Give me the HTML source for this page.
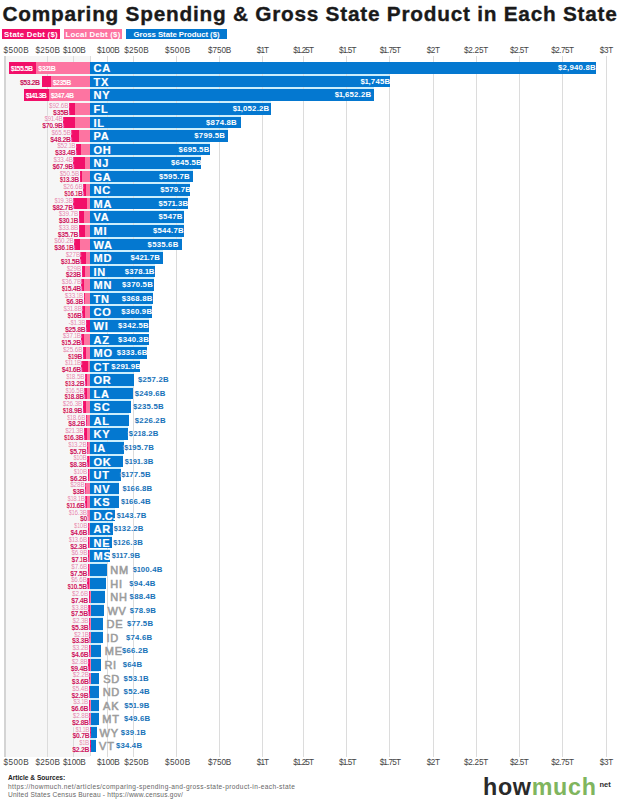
<!DOCTYPE html>
<html><head><meta charset="utf-8"><style>
html,body{margin:0;padding:0;}
body{width:619px;height:800px;overflow:hidden;position:relative;background:#fff;font-family:"Liberation Sans",sans-serif;}
div{position:absolute;white-space:nowrap;}
.title{left:2.5px;top:2px;font-size:20.8px;font-weight:bold;color:#1a1a1a;letter-spacing:0.755px;-webkit-text-stroke:0.35px #1a1a1a}
.leg{top:29px;height:10px;line-height:11px;font-size:7.8px;font-weight:bold;color:#fff;text-align:center;letter-spacing:0.25px}
.panel{background:#f6f6f6;}
.gl{width:1px;background:#dcdcdc;}
.tk{width:80px;text-align:center;font-size:8.2px;color:#444;line-height:8px;}
.bb{background:#0478d0;}
.gap{background:#cdeefc;}
.n1{margin:0 -0.55px;}
.lp{background:#fd74a1;}
.dp{background:#f20f69;}
.pin{font-size:7px;font-weight:bold;color:#fff;letter-spacing:-0.52px;padding-top:0.8px}
.pout2{font-size:7px;font-weight:bold;color:#c9175e;letter-spacing:-0.5px;padding-top:0.8px}
.lo{font-size:6.3px;color:#e387ad;letter-spacing:-0.1px;line-height:6px;text-shadow:0 0 1px #fff,1px 0 1px #fff,-1px 0 1px #fff;}
.so{font-size:6.9px;font-weight:bold;color:#cc1660;line-height:6px;letter-spacing:-0.3px;text-shadow:0 0 1px #fff,1px 0 1px #fff,-1px 0 1px #fff;}
.ab{font-size:11px;font-weight:bold;color:#fff;letter-spacing:0.7px;-webkit-text-stroke:0.2px #fff}
.ag{color:#9c9c9c;font-weight:normal;-webkit-text-stroke:0.55px #9c9c9c;text-shadow:0 0 1px #fff,1px 0 1px #fff,-1px 0 1px #fff;}
.vin{font-size:7.8px;font-weight:bold;color:#fff;letter-spacing:0.2px}
.vout,.vout2{font-size:7.8px;font-weight:bold;color:#1672b8;letter-spacing:0.2px;text-shadow:0 0 1px #fff,1px 0 1px #fff,-1px 0 1px #fff}
.vout2{margin-left:4px;letter-spacing:0;vertical-align:1px;}
.foot{left:8px;font-size:6.6px;color:#666;line-height:7px;}
</style></head><body>
<div class="title">Comparing Spending &amp; Gross State Product in Each State</div>
<div class="leg" style="left:2px;width:58px;background:#f20f69">State Debt ($)</div>
<div class="leg" style="left:64px;width:58px;background:#fd74a1">Local Debt ($)</div>
<div class="leg" style="left:126px;width:101px;background:#0478d0;letter-spacing:-0.05px">Gross State Product ($)</div>
<div class="gap" style="left:90.20px;top:73.90px;width:300.11px;height:1.96px"></div>
<div class="gap" style="left:90.20px;top:87.46px;width:284.14px;height:1.96px"></div>
<div class="gap" style="left:90.20px;top:101.02px;width:180.88px;height:1.96px"></div>
<div class="gap" style="left:90.20px;top:114.58px;width:150.35px;height:1.96px"></div>
<div class="gap" style="left:90.20px;top:128.14px;width:137.39px;height:1.96px"></div>
<div class="gap" style="left:90.20px;top:141.70px;width:119.50px;height:1.96px"></div>
<div class="gap" style="left:90.20px;top:155.26px;width:110.89px;height:1.96px"></div>
<div class="gap" style="left:90.20px;top:168.82px;width:102.32px;height:1.96px"></div>
<div class="gap" style="left:90.20px;top:182.38px;width:99.57px;height:1.96px"></div>
<div class="gap" style="left:90.20px;top:195.94px;width:98.12px;height:1.96px"></div>
<div class="gap" style="left:90.20px;top:209.50px;width:93.94px;height:1.96px"></div>
<div class="gap" style="left:90.20px;top:223.06px;width:93.54px;height:1.96px"></div>
<div class="gap" style="left:90.20px;top:236.62px;width:91.98px;height:1.96px"></div>
<div class="gap" style="left:90.20px;top:250.18px;width:72.37px;height:1.96px"></div>
<div class="gap" style="left:90.20px;top:263.74px;width:64.87px;height:1.96px"></div>
<div class="gap" style="left:90.20px;top:277.30px;width:63.56px;height:1.96px"></div>
<div class="gap" style="left:90.20px;top:290.86px;width:63.27px;height:1.96px"></div>
<div class="gap" style="left:90.20px;top:304.42px;width:61.91px;height:1.96px"></div>
<div class="gap" style="left:90.20px;top:317.98px;width:58.74px;height:1.96px"></div>
<div class="gap" style="left:90.20px;top:331.54px;width:58.37px;height:1.96px"></div>
<div class="gap" style="left:90.20px;top:345.10px;width:57.21px;height:1.96px"></div>
<div class="gap" style="left:90.20px;top:358.66px;width:50.04px;height:1.96px"></div>
<div class="gap" style="left:90.20px;top:372.22px;width:44.06px;height:1.96px"></div>
<div class="gap" style="left:90.20px;top:385.78px;width:42.76px;height:1.96px"></div>
<div class="gap" style="left:90.20px;top:399.34px;width:40.33px;height:1.96px"></div>
<div class="gap" style="left:90.20px;top:412.90px;width:38.73px;height:1.96px"></div>
<div class="gap" style="left:90.20px;top:426.46px;width:37.35px;height:1.96px"></div>
<div class="gap" style="left:90.20px;top:440.02px;width:33.48px;height:1.96px"></div>
<div class="gap" style="left:90.20px;top:453.58px;width:32.72px;height:1.96px"></div>
<div class="gap" style="left:90.20px;top:467.14px;width:30.35px;height:1.96px"></div>
<div class="gap" style="left:90.20px;top:480.70px;width:28.51px;height:1.96px"></div>
<div class="gap" style="left:90.20px;top:494.26px;width:28.44px;height:1.96px"></div>
<div class="gap" style="left:90.20px;top:507.82px;width:24.53px;height:1.96px"></div>
<div class="gap" style="left:90.20px;top:521.38px;width:22.55px;height:1.96px"></div>
<div class="gap" style="left:90.20px;top:534.94px;width:21.54px;height:1.96px"></div>
<div class="gap" style="left:90.20px;top:548.50px;width:20.09px;height:1.96px"></div>
<div class="gap" style="left:90.20px;top:562.06px;width:17.08px;height:1.96px"></div>
<div class="gap" style="left:90.20px;top:575.62px;width:16.05px;height:1.96px"></div>
<div class="gap" style="left:90.20px;top:589.18px;width:15.01px;height:1.96px"></div>
<div class="gap" style="left:90.20px;top:602.74px;width:13.38px;height:1.96px"></div>
<div class="gap" style="left:90.20px;top:616.30px;width:13.14px;height:1.96px"></div>
<div class="gap" style="left:90.20px;top:629.86px;width:12.64px;height:1.96px"></div>
<div class="gap" style="left:90.20px;top:643.42px;width:11.19px;height:1.96px"></div>
<div class="gap" style="left:90.20px;top:656.98px;width:10.81px;height:1.96px"></div>
<div class="gap" style="left:90.20px;top:670.54px;width:8.94px;height:1.96px"></div>
<div class="gap" style="left:90.20px;top:684.10px;width:8.82px;height:1.96px"></div>
<div class="gap" style="left:90.20px;top:697.66px;width:8.73px;height:1.96px"></div>
<div class="gap" style="left:90.20px;top:711.22px;width:8.34px;height:1.96px"></div>
<div class="gap" style="left:90.20px;top:724.78px;width:6.53px;height:1.96px"></div>
<div class="gap" style="left:90.20px;top:738.34px;width:5.72px;height:1.96px"></div>
<div class="panel" style="left:5.00px;top:56.00px;width:85.20px;height:700.50px"></div>
<div class="gl" style="left:4.4px;width:1.3px;top:56.00px;height:700.50px;background:#d4d4d4"></div>
<div class="gl" style="left:47.00px;top:56.00px;height:700.50px"></div>
<div class="gl" style="left:73.00px;top:56.00px;height:6.30px"></div>
<div class="gl" style="left:73.00px;top:727px;height:29.50px"></div>
<div class="gl" style="left:106.90px;top:56.00px;height:700.50px"></div>
<div class="gl" style="left:132.80px;top:56.00px;height:700.50px"></div>
<div class="gl" style="left:176.00px;top:56.00px;height:700.50px"></div>
<div class="gl" style="left:218.60px;top:56.00px;height:700.50px"></div>
<div class="gl" style="left:262.00px;top:56.00px;height:700.50px"></div>
<div class="gl" style="left:302.70px;top:56.00px;height:700.50px"></div>
<div class="gl" style="left:345.90px;top:56.00px;height:700.50px"></div>
<div class="gl" style="left:388.90px;top:56.00px;height:700.50px"></div>
<div class="gl" style="left:432.50px;top:56.00px;height:700.50px"></div>
<div class="gl" style="left:476.30px;top:56.00px;height:700.50px"></div>
<div class="gl" style="left:518.80px;top:56.00px;height:700.50px"></div>
<div class="gl" style="left:561.90px;top:56.00px;height:700.50px"></div>
<div class="gl" style="left:605.70px;top:56.00px;height:700.50px"></div>
<div class="gl" style="left:89.90px;top:56.00px;height:6.30px"></div>
<div class="gl" style="left:89.90px;top:751.90px;height:4.60px"></div>
<div class="tk" style="left:3.5px;top:47.00px;width:auto;text-align:left;letter-spacing:0.4px">$500B</div>
<div class="tk" style="left:7.85px;top:47.00px;letter-spacing:0.2px">$250B</div>
<div class="tk" style="left:34.30px;top:47.00px;letter-spacing:-0.2px">$100B</div>
<div class="tk" style="left:68.30px;top:47.00px;letter-spacing:-0.2px">$100B</div>
<div class="tk" style="left:96.60px;top:47.00px;letter-spacing:0.2px">$250B</div>
<div class="tk" style="left:137.80px;top:47.00px;letter-spacing:0.4px">$500B</div>
<div class="tk" style="left:179.65px;top:47.00px;letter-spacing:-0.1px">$750B</div>
<div class="tk" style="left:222.40px;top:47.00px;letter-spacing:-1.0px">$1T</div>
<div class="tk" style="left:263.12px;top:47.00px;letter-spacing:-0.96px">$1.25T</div>
<div class="tk" style="left:307.36px;top:47.00px;letter-spacing:-0.875px">$1.5T</div>
<div class="tk" style="left:349.88px;top:47.00px;letter-spacing:-0.84px">$1.75T</div>
<div class="tk" style="left:393.17px;top:47.00px;letter-spacing:-0.45px">$2T</div>
<div class="tk" style="left:435.97px;top:47.00px;letter-spacing:-0.26px">$2.25T</div>
<div class="tk" style="left:479.12px;top:47.00px;letter-spacing:-0.55px">$2.5T</div>
<div class="tk" style="left:522.43px;top:47.00px;letter-spacing:-0.54px">$2.75T</div>
<div class="tk" style="left:566.38px;top:47.00px;letter-spacing:-0.25px">$3T</div>
<div class="tk" style="left:3.5px;top:759.00px;width:auto;text-align:left;letter-spacing:0.4px">$500B</div>
<div class="tk" style="left:7.85px;top:759.00px;letter-spacing:0.2px">$250B</div>
<div class="tk" style="left:34.30px;top:759.00px;letter-spacing:-0.2px">$100B</div>
<div class="tk" style="left:68.30px;top:759.00px;letter-spacing:-0.2px">$100B</div>
<div class="tk" style="left:96.60px;top:759.00px;letter-spacing:0.2px">$250B</div>
<div class="tk" style="left:137.80px;top:759.00px;letter-spacing:0.4px">$500B</div>
<div class="tk" style="left:179.65px;top:759.00px;letter-spacing:-0.1px">$750B</div>
<div class="tk" style="left:222.40px;top:759.00px;letter-spacing:-1.0px">$1T</div>
<div class="tk" style="left:263.12px;top:759.00px;letter-spacing:-0.96px">$1.25T</div>
<div class="tk" style="left:307.36px;top:759.00px;letter-spacing:-0.875px">$1.5T</div>
<div class="tk" style="left:349.88px;top:759.00px;letter-spacing:-0.84px">$1.75T</div>
<div class="tk" style="left:393.17px;top:759.00px;letter-spacing:-0.45px">$2T</div>
<div class="tk" style="left:435.97px;top:759.00px;letter-spacing:-0.26px">$2.25T</div>
<div class="tk" style="left:479.12px;top:759.00px;letter-spacing:-0.55px">$2.5T</div>
<div class="tk" style="left:522.43px;top:759.00px;letter-spacing:-0.54px">$2.75T</div>
<div class="tk" style="left:566.38px;top:759.00px;letter-spacing:-0.25px">$3T</div>
<div class="bb" style="left:90.20px;top:62.30px;width:505.91px;height:11.60px"></div>
<div class="lp" style="left:36.27px;top:62.30px;width:53.93px;height:11.60px"></div>
<div class="dp" style="left:9.37px;top:62.30px;width:26.90px;height:11.60px"></div>
<div class="pin" style="left:38.27px;top:62.30px;height:11.60px;line-height:11.60px">$32<span class="n1">1</span>B</div>
<div class="pin" style="left:10.87px;top:62.30px;height:11.60px;line-height:11.60px">$<span class="n1">1</span>55.5B</div>
<div class="ab" style="left:93.60px;top:62.30px;height:11.60px;line-height:12.60px">CA</div>
<div class="vin" style="right:23.19px;top:62.30px;height:11.60px;line-height:12.10px">$2,940.8B</div>
<div class="bb" style="left:90.20px;top:75.86px;width:300.11px;height:11.60px"></div>
<div class="lp" style="left:50.72px;top:75.86px;width:39.48px;height:11.60px"></div>
<div class="dp" style="left:41.52px;top:75.86px;width:9.20px;height:11.60px"></div>
<div class="pin" style="left:52.72px;top:75.86px;height:11.60px;line-height:11.60px">$235B</div>
<div class="pout2" style="right:579.48px;top:75.86px;height:11.60px;line-height:11.60px">$53.2B</div>
<div class="ab" style="left:93.60px;top:75.86px;height:11.60px;line-height:12.60px">TX</div>
<div class="vin" style="right:228.69px;top:75.86px;height:11.60px;line-height:12.10px">$<span class="n1">1</span>,745B</div>
<div class="bb" style="left:90.20px;top:89.42px;width:284.14px;height:11.60px"></div>
<div class="lp" style="left:48.64px;top:89.42px;width:41.56px;height:11.60px"></div>
<div class="dp" style="left:24.19px;top:89.42px;width:24.44px;height:11.60px"></div>
<div class="pin" style="left:50.64px;top:89.42px;height:11.60px;line-height:11.60px">$247.4B</div>
<div class="pin" style="left:25.69px;top:89.42px;height:11.60px;line-height:11.60px">$<span class="n1">1</span>4<span class="n1">1</span>.3B</div>
<div class="ab" style="left:93.60px;top:89.42px;height:11.60px;line-height:12.60px">NY</div>
<div class="vin" style="right:247.66px;top:89.42px;height:11.60px;line-height:12.10px">$<span class="n1">1</span>,652.2B</div>
<div class="bb" style="left:90.20px;top:102.98px;width:180.88px;height:11.60px"></div>
<div class="lp" style="left:74.64px;top:102.98px;width:15.56px;height:11.60px"></div>
<div class="dp" style="left:68.87px;top:102.98px;width:5.78px;height:11.60px"></div>
<div class="lo" style="right:550.63px;top:102.78px">$92.6B</div>
<div class="so" style="right:550.63px;top:109.58px">$35B</div>
<div class="ab" style="left:93.60px;top:102.98px;height:11.60px;line-height:12.60px">FL</div>
<div class="vin" style="right:349.62px;top:102.98px;height:11.60px;line-height:12.10px">$<span class="n1">1</span>,052.2B</div>
<div class="bb" style="left:90.20px;top:116.54px;width:150.35px;height:11.60px"></div>
<div class="lp" style="left:74.84px;top:116.54px;width:15.36px;height:11.60px"></div>
<div class="dp" style="left:63.15px;top:116.54px;width:11.70px;height:11.60px"></div>
<div class="lo" style="right:556.35px;top:116.34px">$9<span class="n1">1</span>.4B</div>
<div class="so" style="right:556.35px;top:123.14px">$70.9B</div>
<div class="ab" style="left:93.60px;top:116.54px;height:11.60px;line-height:12.60px">IL</div>
<div class="vin" style="right:382.05px;top:116.54px;height:11.60px;line-height:12.10px">$874.8B</div>
<div class="bb" style="left:90.20px;top:130.10px;width:137.39px;height:11.60px"></div>
<div class="lp" style="left:79.20px;top:130.10px;width:11.00px;height:11.60px"></div>
<div class="dp" style="left:71.24px;top:130.10px;width:7.95px;height:11.60px"></div>
<div class="lo" style="right:548.26px;top:129.90px">$65.5B</div>
<div class="so" style="right:548.26px;top:136.70px">$48.2B</div>
<div class="ab" style="left:93.60px;top:130.10px;height:11.60px;line-height:12.60px">PA</div>
<div class="vin" style="right:393.81px;top:130.10px;height:11.60px;line-height:12.10px">$799.5B</div>
<div class="bb" style="left:90.20px;top:143.66px;width:119.50px;height:11.60px"></div>
<div class="lp" style="left:81.45px;top:143.66px;width:8.75px;height:11.60px"></div>
<div class="dp" style="left:75.94px;top:143.66px;width:5.51px;height:11.60px"></div>
<div class="lo" style="right:543.56px;top:143.46px">$52.<span class="n1">1</span>B</div>
<div class="so" style="right:543.56px;top:150.26px">$33.4B</div>
<div class="ab" style="left:93.60px;top:143.66px;height:11.60px;line-height:12.60px">OH</div>
<div class="vin" style="right:409.50px;top:143.66px;height:11.60px;line-height:12.10px">$695.5B</div>
<div class="bb" style="left:90.20px;top:157.22px;width:110.89px;height:11.60px"></div>
<div class="lp" style="left:84.59px;top:157.22px;width:5.61px;height:11.60px"></div>
<div class="dp" style="left:73.39px;top:157.22px;width:11.20px;height:11.60px"></div>
<div class="lo" style="right:546.11px;top:157.02px">$33.4B</div>
<div class="so" style="right:546.11px;top:163.82px">$67.9B</div>
<div class="ab" style="left:93.60px;top:157.22px;height:11.60px;line-height:12.60px">NJ</div>
<div class="vin" style="right:417.11px;top:157.22px;height:11.60px;line-height:12.10px">$645.5B</div>
<div class="bb" style="left:90.20px;top:170.78px;width:102.32px;height:11.60px"></div>
<div class="lp" style="left:81.72px;top:170.78px;width:8.48px;height:11.60px"></div>
<div class="dp" style="left:79.52px;top:170.78px;width:2.19px;height:11.60px"></div>
<div class="lo" style="right:539.98px;top:170.58px">$50.5B</div>
<div class="so" style="right:539.98px;top:177.38px">$<span class="n1">1</span>3.3B</div>
<div class="ab" style="left:93.60px;top:170.78px;height:11.60px;line-height:12.60px">GA</div>
<div class="vin" style="right:429.08px;top:170.78px;height:11.60px;line-height:12.10px">$595.7B</div>
<div class="bb" style="left:90.20px;top:184.34px;width:99.57px;height:11.60px"></div>
<div class="lp" style="left:85.73px;top:184.34px;width:4.47px;height:11.60px"></div>
<div class="dp" style="left:83.07px;top:184.34px;width:2.66px;height:11.60px"></div>
<div class="lo" style="right:536.43px;top:184.14px">$26.6B</div>
<div class="so" style="right:536.43px;top:190.94px">$<span class="n1">1</span>6.<span class="n1">1</span>B</div>
<div class="ab" style="left:93.60px;top:184.34px;height:11.60px;line-height:12.60px">NC</div>
<div class="vin" style="right:427.93px;top:184.34px;height:11.60px;line-height:12.10px">$579.7B</div>
<div class="bb" style="left:90.20px;top:197.90px;width:98.12px;height:11.60px"></div>
<div class="lp" style="left:86.96px;top:197.90px;width:3.24px;height:11.60px"></div>
<div class="dp" style="left:73.31px;top:197.90px;width:13.65px;height:11.60px"></div>
<div class="lo" style="right:546.19px;top:197.70px">$<span class="n1">1</span>9.3B</div>
<div class="so" style="right:546.19px;top:204.50px">$82.7B</div>
<div class="ab" style="left:93.60px;top:197.90px;height:11.60px;line-height:12.60px">MA</div>
<div class="vin" style="right:430.68px;top:197.90px;height:11.60px;line-height:12.10px">$57<span class="n1">1</span>.3B</div>
<div class="bb" style="left:90.20px;top:211.46px;width:93.94px;height:11.60px"></div>
<div class="lp" style="left:83.53px;top:211.46px;width:6.67px;height:11.60px"></div>
<div class="dp" style="left:78.56px;top:211.46px;width:4.97px;height:11.60px"></div>
<div class="lo" style="right:540.94px;top:211.26px">$39.7B</div>
<div class="so" style="right:540.94px;top:218.06px">$30.<span class="n1">1</span>B</div>
<div class="ab" style="left:93.60px;top:211.46px;height:11.60px;line-height:12.60px">VA</div>
<div class="vin" style="right:436.46px;top:211.46px;height:11.60px;line-height:12.10px">$547B</div>
<div class="bb" style="left:90.20px;top:225.02px;width:93.54px;height:11.60px"></div>
<div class="lp" style="left:84.52px;top:225.02px;width:5.68px;height:11.60px"></div>
<div class="dp" style="left:78.63px;top:225.02px;width:5.89px;height:11.60px"></div>
<div class="lo" style="right:540.87px;top:224.82px">$33.8B</div>
<div class="so" style="right:540.87px;top:231.62px">$35.7B</div>
<div class="ab" style="left:93.60px;top:225.02px;height:11.60px;line-height:12.60px">MI</div>
<div class="vin" style="right:435.16px;top:225.02px;height:11.60px;line-height:12.10px">$544.7B</div>
<div class="bb" style="left:90.20px;top:238.58px;width:91.98px;height:11.60px"></div>
<div class="lp" style="left:80.09px;top:238.58px;width:10.11px;height:11.60px"></div>
<div class="dp" style="left:74.13px;top:238.58px;width:5.96px;height:11.60px"></div>
<div class="lo" style="right:545.37px;top:238.38px">$60.2B</div>
<div class="so" style="right:545.37px;top:245.18px">$36.<span class="n1">1</span>B</div>
<div class="ab" style="left:93.60px;top:238.58px;height:11.60px;line-height:12.60px">WA</div>
<div class="vin" style="right:440.52px;top:238.58px;height:11.60px;line-height:12.10px">$535.6B</div>
<div class="bb" style="left:90.20px;top:252.14px;width:72.37px;height:11.60px"></div>
<div class="lp" style="left:85.66px;top:252.14px;width:4.54px;height:11.60px"></div>
<div class="dp" style="left:80.47px;top:252.14px;width:5.20px;height:11.60px"></div>
<div class="lo" style="right:539.03px;top:251.94px">$27B</div>
<div class="so" style="right:539.03px;top:258.74px">$3<span class="n1">1</span>.5B</div>
<div class="ab" style="left:93.60px;top:252.14px;height:11.60px;line-height:12.60px">MD</div>
<div class="vin" style="right:458.83px;top:252.14px;height:11.60px;line-height:12.10px">$42<span class="n1">1</span>.7B</div>
<div class="bb" style="left:90.20px;top:265.70px;width:64.87px;height:11.60px"></div>
<div class="lp" style="left:85.33px;top:265.70px;width:4.87px;height:11.60px"></div>
<div class="dp" style="left:81.53px;top:265.70px;width:3.80px;height:11.60px"></div>
<div class="lo" style="right:537.97px;top:265.50px">$29B</div>
<div class="so" style="right:537.97px;top:272.30px">$23B</div>
<div class="ab" style="left:93.60px;top:265.70px;height:11.60px;line-height:12.60px">IN</div>
<div class="vin" style="right:464.53px;top:265.70px;height:11.60px;line-height:12.10px">$378.<span class="n1">1</span>B</div>
<div class="bb" style="left:90.20px;top:279.26px;width:63.56px;height:11.60px"></div>
<div class="lp" style="left:84.03px;top:279.26px;width:6.17px;height:11.60px"></div>
<div class="dp" style="left:81.49px;top:279.26px;width:2.54px;height:11.60px"></div>
<div class="lo" style="right:538.01px;top:279.06px">$36.7B</div>
<div class="so" style="right:538.01px;top:285.86px">$<span class="n1">1</span>5.4B</div>
<div class="ab" style="left:93.60px;top:279.26px;height:11.60px;line-height:12.60px">MN</div>
<div class="vin" style="right:466.04px;top:279.26px;height:11.60px;line-height:12.10px">$370.5B</div>
<div class="bb" style="left:90.20px;top:292.82px;width:63.27px;height:11.60px"></div>
<div class="lp" style="left:84.64px;top:292.82px;width:5.56px;height:11.60px"></div>
<div class="dp" style="left:83.60px;top:292.82px;width:1.04px;height:11.60px"></div>
<div class="lo" style="right:535.90px;top:292.62px">$33.<span class="n1">1</span>B</div>
<div class="so" style="right:535.90px;top:299.42px">$6.3B</div>
<div class="ab" style="left:93.60px;top:292.82px;height:11.60px;line-height:12.60px">TN</div>
<div class="vin" style="right:466.43px;top:292.82px;height:11.60px;line-height:12.10px">$368.8B</div>
<div class="bb" style="left:90.20px;top:306.38px;width:61.91px;height:11.60px"></div>
<div class="lp" style="left:84.86px;top:306.38px;width:5.34px;height:11.60px"></div>
<div class="dp" style="left:82.22px;top:306.38px;width:2.64px;height:11.60px"></div>
<div class="lo" style="right:537.28px;top:306.18px">$3<span class="n1">1</span>.8B</div>
<div class="so" style="right:537.28px;top:312.98px">$<span class="n1">1</span>6B</div>
<div class="ab" style="left:93.60px;top:306.38px;height:11.60px;line-height:12.60px">CO</div>
<div class="vin" style="right:466.79px;top:306.38px;height:11.60px;line-height:12.10px">$360.9B</div>
<div class="bb" style="left:90.20px;top:319.94px;width:58.74px;height:11.60px"></div>
<div class="dp" style="left:85.94px;top:319.94px;width:4.26px;height:11.60px"></div>
<div class="lo" style="right:533.56px;top:319.74px">-$<span class="n1">1</span>.3B</div>
<div class="so" style="right:533.56px;top:326.54px">$25.8B</div>
<div class="ab" style="left:93.60px;top:319.94px;height:11.60px;line-height:12.60px">WI</div>
<div class="vin" style="right:470.06px;top:319.94px;height:11.60px;line-height:12.10px">$342.5B</div>
<div class="bb" style="left:90.20px;top:333.50px;width:58.37px;height:11.60px"></div>
<div class="lp" style="left:83.97px;top:333.50px;width:6.23px;height:11.60px"></div>
<div class="dp" style="left:81.46px;top:333.50px;width:2.51px;height:11.60px"></div>
<div class="lo" style="right:538.04px;top:333.30px">$37.<span class="n1">1</span>B</div>
<div class="so" style="right:538.04px;top:340.10px">$<span class="n1">1</span>5.2B</div>
<div class="ab" style="left:93.60px;top:333.50px;height:11.60px;line-height:12.60px">AZ</div>
<div class="vin" style="right:470.03px;top:333.50px;height:11.60px;line-height:12.10px">$340.3B</div>
<div class="bb" style="left:90.20px;top:347.06px;width:57.21px;height:11.60px"></div>
<div class="lp" style="left:85.90px;top:347.06px;width:4.30px;height:11.60px"></div>
<div class="dp" style="left:82.76px;top:347.06px;width:3.14px;height:11.60px"></div>
<div class="lo" style="right:536.74px;top:346.86px">$25.6B</div>
<div class="so" style="right:536.74px;top:353.66px">$<span class="n1">1</span>9B</div>
<div class="ab" style="left:93.60px;top:347.06px;height:11.60px;line-height:12.60px">MO</div>
<div class="vin" style="right:471.49px;top:347.06px;height:11.60px;line-height:12.10px">$333.6B</div>
<div class="bb" style="left:90.20px;top:360.62px;width:50.04px;height:11.60px"></div>
<div class="lp" style="left:88.34px;top:360.62px;width:1.86px;height:11.60px"></div>
<div class="dp" style="left:81.47px;top:360.62px;width:6.86px;height:11.60px"></div>
<div class="lo" style="right:538.03px;top:360.42px">$<span class="n1">1</span><span class="n1">1</span>.<span class="n1">1</span>B</div>
<div class="so" style="right:538.03px;top:367.22px">$4<span class="n1">1</span>.6B</div>
<div class="ab" style="left:93.60px;top:360.62px;height:11.60px;line-height:12.60px">CT</div>
<div class="vin" style="right:477.86px;top:360.62px;height:11.60px;line-height:12.10px">$29<span class="n1">1</span>.9B</div>
<div class="bb" style="left:90.20px;top:374.18px;width:44.06px;height:11.60px"></div>
<div class="lp" style="left:87.09px;top:374.18px;width:3.11px;height:11.60px"></div>
<div class="dp" style="left:84.91px;top:374.18px;width:2.18px;height:11.60px"></div>
<div class="lo" style="right:534.59px;top:373.98px">$<span class="n1">1</span>8.5B</div>
<div class="so" style="right:534.59px;top:380.78px">$<span class="n1">1</span>3.2B</div>
<div class="ab" style="left:93.60px;top:374.18px;height:11.60px;line-height:12.60px">OR</div>
<div class="vout" style="left:137.96px;top:374.18px;height:11.60px;line-height:12.10px">$257.2B</div>
<div class="bb" style="left:90.20px;top:387.74px;width:42.76px;height:11.60px"></div>
<div class="lp" style="left:87.43px;top:387.74px;width:2.77px;height:11.60px"></div>
<div class="dp" style="left:84.33px;top:387.74px;width:3.10px;height:11.60px"></div>
<div class="lo" style="right:535.17px;top:387.54px">$<span class="n1">1</span>6.5B</div>
<div class="so" style="right:535.17px;top:394.34px">$<span class="n1">1</span>8.8B</div>
<div class="ab" style="left:93.60px;top:387.74px;height:11.60px;line-height:12.60px">LA</div>
<div class="vout" style="left:134.76px;top:387.74px;height:11.60px;line-height:12.10px">$249.6B</div>
<div class="bb" style="left:90.20px;top:401.30px;width:40.33px;height:11.60px"></div>
<div class="lp" style="left:85.78px;top:401.30px;width:4.42px;height:11.60px"></div>
<div class="dp" style="left:82.66px;top:401.30px;width:3.12px;height:11.60px"></div>
<div class="lo" style="right:536.84px;top:401.10px">$26.3B</div>
<div class="so" style="right:536.84px;top:407.90px">$<span class="n1">1</span>8.9B</div>
<div class="ab" style="left:93.60px;top:401.30px;height:11.60px;line-height:12.60px">SC</div>
<div class="vout" style="left:132.93px;top:401.30px;height:11.60px;line-height:12.10px">$235.5B</div>
<div class="bb" style="left:90.20px;top:414.86px;width:38.73px;height:11.60px"></div>
<div class="lp" style="left:87.08px;top:414.86px;width:3.12px;height:11.60px"></div>
<div class="dp" style="left:85.72px;top:414.86px;width:1.35px;height:11.60px"></div>
<div class="lo" style="right:533.78px;top:414.66px">$<span class="n1">1</span>8.6B</div>
<div class="so" style="right:533.78px;top:421.46px">$8.2B</div>
<div class="ab" style="left:93.60px;top:414.86px;height:11.60px;line-height:12.60px">AL</div>
<div class="vout" style="left:134.83px;top:414.86px;height:11.60px;line-height:12.10px">$226.2B</div>
<div class="bb" style="left:90.20px;top:428.42px;width:37.35px;height:11.60px"></div>
<div class="lp" style="left:86.62px;top:428.42px;width:3.58px;height:11.60px"></div>
<div class="dp" style="left:83.93px;top:428.42px;width:2.69px;height:11.60px"></div>
<div class="lo" style="right:535.57px;top:428.22px">$2<span class="n1">1</span>.3B</div>
<div class="so" style="right:535.57px;top:435.02px">$<span class="n1">1</span>6.3B</div>
<div class="ab" style="left:93.60px;top:428.42px;height:11.60px;line-height:12.60px">KY</div>
<div class="vout" style="left:128.85px;top:428.42px;height:11.60px;line-height:12.10px">$2<span class="n1">1</span>8.2B</div>
<div class="bb" style="left:90.20px;top:441.98px;width:33.48px;height:11.60px"></div>
<div class="lp" style="left:87.98px;top:441.98px;width:2.22px;height:11.60px"></div>
<div class="dp" style="left:87.04px;top:441.98px;width:0.94px;height:11.60px"></div>
<div class="lo" style="right:532.46px;top:441.78px">$<span class="n1">1</span>3.2B</div>
<div class="so" style="right:532.46px;top:448.58px">$5.7B</div>
<div class="ab" style="left:93.60px;top:441.98px;height:11.60px;line-height:12.60px">IA</div>
<div class="vout" style="left:124.28px;top:441.98px;height:11.60px;line-height:12.10px">$<span class="n1">1</span>95.7B</div>
<div class="bb" style="left:90.20px;top:455.54px;width:32.72px;height:11.60px"></div>
<div class="lp" style="left:88.52px;top:455.54px;width:1.68px;height:11.60px"></div>
<div class="dp" style="left:87.15px;top:455.54px;width:1.37px;height:11.60px"></div>
<div class="lo" style="right:532.35px;top:455.34px">$<span class="n1">1</span>0B</div>
<div class="so" style="right:532.35px;top:462.14px">$8.3B</div>
<div class="ab" style="left:93.60px;top:455.54px;height:11.60px;line-height:12.60px">OK</div>
<div class="vout" style="left:124.82px;top:455.54px;height:11.60px;line-height:12.10px">$<span class="n1">1</span>9<span class="n1">1</span>.3B</div>
<div class="bb" style="left:90.20px;top:469.10px;width:30.35px;height:11.60px"></div>
<div class="lp" style="left:88.52px;top:469.10px;width:1.68px;height:11.60px"></div>
<div class="dp" style="left:87.50px;top:469.10px;width:1.02px;height:11.60px"></div>
<div class="lo" style="right:532.00px;top:468.90px">$<span class="n1">1</span>0B</div>
<div class="so" style="right:532.00px;top:475.70px">$6.2B</div>
<div class="ab" style="left:93.60px;top:469.10px;height:11.60px;line-height:12.60px">UT</div>
<div class="vout" style="left:121.15px;top:469.10px;height:11.60px;line-height:12.10px">$<span class="n1">1</span>77.5B</div>
<div class="bb" style="left:90.20px;top:482.66px;width:28.51px;height:11.60px"></div>
<div class="lp" style="left:85.50px;top:482.66px;width:4.70px;height:11.60px"></div>
<div class="dp" style="left:85.00px;top:482.66px;width:0.49px;height:11.60px"></div>
<div class="lo" style="right:534.50px;top:482.46px">$28B</div>
<div class="so" style="right:534.50px;top:489.26px">$3B</div>
<div class="ab" style="left:93.60px;top:482.66px;height:11.60px;line-height:12.60px">NV</div>
<div class="vout" style="left:122.61px;top:482.66px;height:11.60px;line-height:12.10px">$<span class="n1">1</span>66.8B</div>
<div class="bb" style="left:90.20px;top:496.22px;width:28.44px;height:11.60px"></div>
<div class="lp" style="left:87.16px;top:496.22px;width:3.04px;height:11.60px"></div>
<div class="dp" style="left:85.25px;top:496.22px;width:1.91px;height:11.60px"></div>
<div class="lo" style="right:534.25px;top:496.02px">$<span class="n1">1</span>8.<span class="n1">1</span>B</div>
<div class="so" style="right:534.25px;top:502.82px">$<span class="n1">1</span><span class="n1">1</span>.6B</div>
<div class="ab" style="left:93.60px;top:496.22px;height:11.60px;line-height:12.60px">KS</div>
<div class="vout" style="left:121.04px;top:496.22px;height:11.60px;line-height:12.10px">$<span class="n1">1</span>66.4B</div>
<div class="bb" style="left:90.20px;top:509.78px;width:24.53px;height:11.60px"></div>
<div class="lp" style="left:87.46px;top:509.78px;width:2.74px;height:11.60px"></div>
<div class="lo" style="right:532.04px;top:509.58px">$<span class="n1">1</span>6.3B</div>
<div class="so" style="right:532.04px;top:516.38px">$0</div>
<div class="ab" style="left:93.60px;letter-spacing:0.1px;top:509.78px;height:11.60px;line-height:12.60px">D.C.</div>
<div class="vout" style="left:116.83px;top:509.78px;height:11.60px;line-height:12.10px">$<span class="n1">1</span>43.7B</div>
<div class="bb" style="left:90.20px;top:523.34px;width:22.55px;height:11.60px"></div>
<div class="lp" style="left:88.52px;top:523.34px;width:1.68px;height:11.60px"></div>
<div class="dp" style="left:87.76px;top:523.34px;width:0.76px;height:11.60px"></div>
<div class="lo" style="right:531.74px;top:523.14px">$<span class="n1">1</span>0B</div>
<div class="so" style="right:531.74px;top:529.94px">$4.6B</div>
<div class="ab" style="left:93.60px;top:523.34px;height:11.60px;line-height:12.60px">AR</div>
<div class="vout" style="left:113.85px;top:523.34px;height:11.60px;line-height:12.10px">$<span class="n1">1</span>32.2B</div>
<div class="bb" style="left:90.20px;top:536.90px;width:21.54px;height:11.60px"></div>
<div class="lp" style="left:87.92px;top:536.90px;width:2.28px;height:11.60px"></div>
<div class="dp" style="left:87.54px;top:536.90px;width:0.38px;height:11.60px"></div>
<div class="lo" style="right:531.96px;top:536.70px">$<span class="n1">1</span>3.6B</div>
<div class="so" style="right:531.96px;top:543.50px">$2.3B</div>
<div class="ab" style="left:93.60px;top:536.90px;height:11.60px;line-height:12.60px">NE</div>
<div class="vout" style="left:113.24px;top:536.90px;height:11.60px;line-height:12.10px">$<span class="n1">1</span>26.3B</div>
<div class="bb" style="left:90.20px;top:550.46px;width:20.09px;height:11.60px"></div>
<div class="lp" style="left:89.04px;top:550.46px;width:1.16px;height:11.60px"></div>
<div class="dp" style="left:87.87px;top:550.46px;width:1.17px;height:11.60px"></div>
<div class="lo" style="right:531.63px;top:550.26px">$6.9B</div>
<div class="so" style="right:531.63px;top:557.06px">$7.<span class="n1">1</span>B</div>
<div class="ab" style="left:93.60px;top:550.46px;height:11.60px;line-height:12.60px">MS</div>
<div class="vout" style="left:111.69px;top:550.46px;height:11.60px;line-height:12.10px">$<span class="n1">1</span><span class="n1">1</span>7.9B</div>
<div class="bb" style="left:90.20px;top:564.02px;width:17.08px;height:11.60px"></div>
<div class="lp" style="left:88.92px;top:564.02px;width:1.28px;height:11.60px"></div>
<div class="dp" style="left:87.69px;top:564.02px;width:1.24px;height:11.60px"></div>
<div class="lo" style="right:531.81px;top:563.82px">$7.6B</div>
<div class="so" style="right:531.81px;top:570.62px">$7.5B</div>
<div class="ab ag" style="left:110.30px;top:564.02px;height:11.60px;line-height:12.60px">NM</div>
<div class="vout" style="left:132.80px;top:564.02px;height:11.60px;line-height:12.10px">$<span class="n1">1</span>00.4B</div>
<div class="bb" style="left:90.20px;top:577.58px;width:16.05px;height:11.60px"></div>
<div class="lp" style="left:89.09px;top:577.58px;width:1.11px;height:11.60px"></div>
<div class="dp" style="left:87.36px;top:577.58px;width:1.73px;height:11.60px"></div>
<div class="lo" style="right:532.14px;top:577.38px">$6.6B</div>
<div class="so" style="right:532.14px;top:584.18px">$<span class="n1">1</span>0.5B</div>
<div class="ab ag" style="left:110.30px;top:577.58px;height:11.60px;line-height:12.60px">HI</div>
<div class="vout" style="left:129.30px;top:577.58px;height:11.60px;line-height:12.10px">$94.4B</div>
<div class="bb" style="left:90.20px;top:591.14px;width:15.01px;height:11.60px"></div>
<div class="lp" style="left:89.76px;top:591.14px;width:0.44px;height:11.60px"></div>
<div class="dp" style="left:88.54px;top:591.14px;width:1.22px;height:11.60px"></div>
<div class="lo" style="right:530.96px;top:590.94px">$2.6B</div>
<div class="so" style="right:530.96px;top:597.74px">$7.4B</div>
<div class="ab ag" style="left:110.30px;top:591.14px;height:11.60px;line-height:12.60px">NH</div>
<div class="vout" style="left:129.60px;top:591.14px;height:11.60px;line-height:12.10px">$88.4B</div>
<div class="bb" style="left:90.20px;top:604.70px;width:13.38px;height:11.60px"></div>
<div class="lp" style="left:89.56px;top:604.70px;width:0.64px;height:11.60px"></div>
<div class="dp" style="left:88.32px;top:604.70px;width:1.24px;height:11.60px"></div>
<div class="lo" style="right:531.18px;top:604.50px">$3.8B</div>
<div class="so" style="right:531.18px;top:611.30px">$7.5B</div>
<div class="ab ag" style="left:107.40px;top:604.70px;height:11.60px;line-height:12.60px">WV</div>
<div class="vout" style="left:129.70px;top:604.70px;height:11.60px;line-height:12.10px">$78.9B</div>
<div class="bb" style="left:90.20px;top:618.26px;width:13.14px;height:11.60px"></div>
<div class="lp" style="left:89.81px;top:618.26px;width:0.39px;height:11.60px"></div>
<div class="dp" style="left:88.94px;top:618.26px;width:0.87px;height:11.60px"></div>
<div class="lo" style="right:530.56px;top:618.06px">$2.3B</div>
<div class="so" style="right:530.56px;top:624.86px">$5.3B</div>
<div class="ab ag" style="left:106.50px;top:618.26px;height:11.60px;line-height:12.60px">DE</div>
<div class="vout" style="left:126.90px;top:618.26px;height:11.60px;line-height:12.10px">$77.5B</div>
<div class="bb" style="left:90.20px;top:631.82px;width:12.64px;height:11.60px"></div>
<div class="lp" style="left:89.85px;top:631.82px;width:0.35px;height:11.60px"></div>
<div class="dp" style="left:89.30px;top:631.82px;width:0.54px;height:11.60px"></div>
<div class="lo" style="right:530.20px;top:631.62px">$2.<span class="n1">1</span>B</div>
<div class="so" style="right:530.20px;top:638.42px">$3.3B</div>
<div class="ab ag" style="left:106.50px;top:631.82px;height:11.60px;line-height:12.60px">ID</div>
<div class="vout" style="left:126.00px;top:631.82px;height:11.60px;line-height:12.10px">$74.6B</div>
<div class="bb" style="left:90.20px;top:645.38px;width:11.19px;height:11.60px"></div>
<div class="lp" style="left:89.66px;top:645.38px;width:0.54px;height:11.60px"></div>
<div class="dp" style="left:88.90px;top:645.38px;width:0.76px;height:11.60px"></div>
<div class="lo" style="right:530.60px;top:645.18px">$3.2B</div>
<div class="so" style="right:530.60px;top:651.98px">$4.6B</div>
<div class="ab ag" style="left:104.80px;top:645.38px;height:11.60px;line-height:12.60px">ME</div>
<div class="vout" style="left:122.00px;top:645.38px;height:11.60px;line-height:12.10px">$66.2B</div>
<div class="bb" style="left:90.20px;top:658.94px;width:10.81px;height:11.60px"></div>
<div class="lp" style="left:89.73px;top:658.94px;width:0.47px;height:11.60px"></div>
<div class="dp" style="left:88.18px;top:658.94px;width:1.55px;height:11.60px"></div>
<div class="lo" style="right:531.32px;top:658.74px">$2.8B</div>
<div class="so" style="right:531.32px;top:665.54px">$9.4B</div>
<div class="ab ag" style="left:104.40px;top:658.94px;height:11.60px;line-height:12.60px">RI</div>
<div class="vout" style="left:122.80px;top:658.94px;height:11.60px;line-height:12.10px">$64B</div>
<div class="bb" style="left:90.20px;top:672.50px;width:8.94px;height:11.60px"></div>
<div class="lp" style="left:89.83px;top:672.50px;width:0.37px;height:11.60px"></div>
<div class="dp" style="left:89.24px;top:672.50px;width:0.59px;height:11.60px"></div>
<div class="lo" style="right:530.26px;top:672.30px">$2.2B</div>
<div class="so" style="right:530.26px;top:679.10px">$3.6B</div>
<div class="ab ag" style="left:103.20px;top:672.50px;height:11.60px;line-height:12.60px">SD</div>
<div class="vout" style="left:123.60px;top:672.50px;height:11.60px;line-height:12.10px">$53.<span class="n1">1</span>B</div>
<div class="bb" style="left:90.20px;top:686.06px;width:8.82px;height:11.60px"></div>
<div class="lp" style="left:89.29px;top:686.06px;width:0.91px;height:11.60px"></div>
<div class="dp" style="left:88.81px;top:686.06px;width:0.48px;height:11.60px"></div>
<div class="lo" style="right:530.69px;top:685.86px">$5.4B</div>
<div class="so" style="right:530.69px;top:692.66px">$2.9B</div>
<div class="ab ag" style="left:102.70px;top:686.06px;height:11.60px;line-height:12.60px">ND</div>
<div class="vout" style="left:123.60px;top:686.06px;height:11.60px;line-height:12.10px">$52.4B</div>
<div class="bb" style="left:90.20px;top:699.62px;width:8.73px;height:11.60px"></div>
<div class="lp" style="left:89.68px;top:699.62px;width:0.52px;height:11.60px"></div>
<div class="dp" style="left:88.59px;top:699.62px;width:1.09px;height:11.60px"></div>
<div class="lo" style="right:530.91px;top:699.42px">$3.<span class="n1">1</span>B</div>
<div class="so" style="right:530.91px;top:706.22px">$6.6B</div>
<div class="ab ag" style="left:103.10px;top:699.62px;height:11.60px;line-height:12.60px">AK</div>
<div class="vout" style="left:124.30px;top:699.62px;height:11.60px;line-height:12.10px">$5<span class="n1">1</span>.9B</div>
<div class="bb" style="left:90.20px;top:713.18px;width:8.34px;height:11.60px"></div>
<div class="lp" style="left:89.73px;top:713.18px;width:0.47px;height:11.60px"></div>
<div class="dp" style="left:89.27px;top:713.18px;width:0.46px;height:11.60px"></div>
<div class="lo" style="right:530.23px;top:712.98px">$2.8B</div>
<div class="so" style="right:530.23px;top:719.78px">$2.8B</div>
<div class="ab ag" style="left:102.30px;top:713.18px;height:11.60px;line-height:12.60px">MT</div>
<div class="vout" style="left:124.00px;top:713.18px;height:11.60px;line-height:12.10px">$49.6B</div>
<div class="bb" style="left:90.20px;top:726.74px;width:6.53px;height:11.60px"></div>
<div class="lp" style="left:90.02px;top:726.74px;width:0.18px;height:11.60px"></div>
<div class="dp" style="left:89.90px;top:726.74px;width:0.12px;height:11.60px"></div>
<div class="lo" style="right:529.60px;top:726.54px">$<span class="n1">1</span>.<span class="n1">1</span>B</div>
<div class="so" style="right:529.60px;top:733.34px">$0.7B</div>
<div class="ab ag" style="left:99.60px;top:726.74px;height:11.60px;line-height:12.60px">WY</div>
<div class="vout" style="left:120.80px;top:726.74px;height:11.60px;line-height:12.10px">$39.<span class="n1">1</span>B</div>
<div class="bb" style="left:90.20px;top:740.30px;width:5.72px;height:11.60px"></div>
<div class="lp" style="left:90.03px;top:740.30px;width:0.17px;height:11.60px"></div>
<div class="dp" style="left:89.67px;top:740.30px;width:0.36px;height:11.60px"></div>
<div class="lo" style="right:529.83px;top:740.10px">$<span class="n1">1</span>B</div>
<div class="so" style="right:529.83px;top:746.90px">$2.2B</div>
<div class="ab ag" style="left:99.10px;top:740.30px;height:11.60px;line-height:12.60px">VT</div>
<div class="vout" style="left:115.90px;top:740.30px;height:11.60px;line-height:12.10px">$34.4B</div>
<div class="foot" style="top:774px;font-weight:bold;color:#222">Article &amp; Sources:</div>
<div class="foot" style="top:783px;letter-spacing:0.37px">https://howmuch.net/articles/comparing-spending-and-gross-state-product-in-each-state</div>
<div class="foot" style="top:790.5px;letter-spacing:0.22px">United States Census Bureau - https://www.census.gov/</div>
<div class="logo" style="left:483px;top:774px;font-size:23.3px;font-weight:bold;color:#2a2a2a;line-height:26px;letter-spacing:0.7px">how<span style="color:#80b55e">much</span></div>
<div style="left:599.5px;top:781px;font-size:7.5px;font-weight:bold;color:#2a2a2a;line-height:8px">net</div>
</body></html>
